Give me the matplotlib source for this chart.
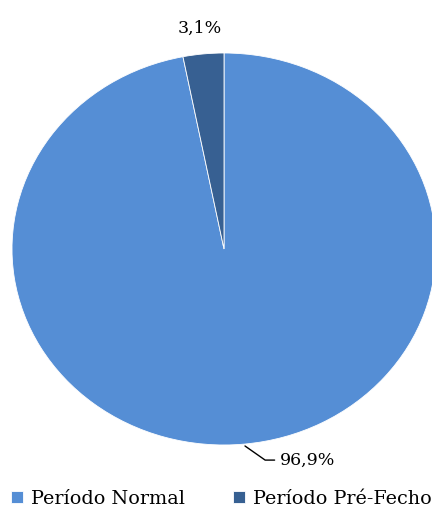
import matplotlib.pyplot as plt

labels = ['Período Normal', 'Período Pré-Fecho']
values = [96.9, 3.1]
value_text = ['96,9%', '3,1%']
colors = ['#558ED5', '#376092']

plt.rcParams['font.family'] = ['DejaVu Serif']

fig = plt.figure(figsize=(4.32, 5.09), dpi=100)
ax = fig.add_axes([12/432, 64/509, 424/432, 392/509])
wedges, _ = ax.pie(values, colors=colors, startangle=90, counterclock=False,
                   radius=1, wedgeprops=dict(edgecolor='white', linewidth=0.6))
ax.set_xlim(-1, 1)
ax.set_ylim(-1, 1)
ax.set_aspect('auto')
ax.axis('off')

# labels
ax.text(-0.113, 1.128, value_text[1], fontsize=12.5, ha='center', va='center')
ax.annotate(value_text[0], xy=(0.099, -1.005), xytext=(0.265, -1.077),
            fontsize=12.5, ha='left', va='center', annotation_clip=False,
            arrowprops=dict(arrowstyle='-', color='black', lw=1,
                            connectionstyle='angle,angleA=0,angleB=-35,rad=0',
                            shrinkA=2, shrinkB=0))

fig.legend(wedges, labels, loc='lower left', bbox_to_anchor=(0.0, -0.02), ncol=2,
           frameon=False, fontsize=13.75, handlelength=0.63, handleheight=0.63,
           handletextpad=0.4, columnspacing=2.5, borderaxespad=0.2)

fig.savefig('out.png', dpi=100)
